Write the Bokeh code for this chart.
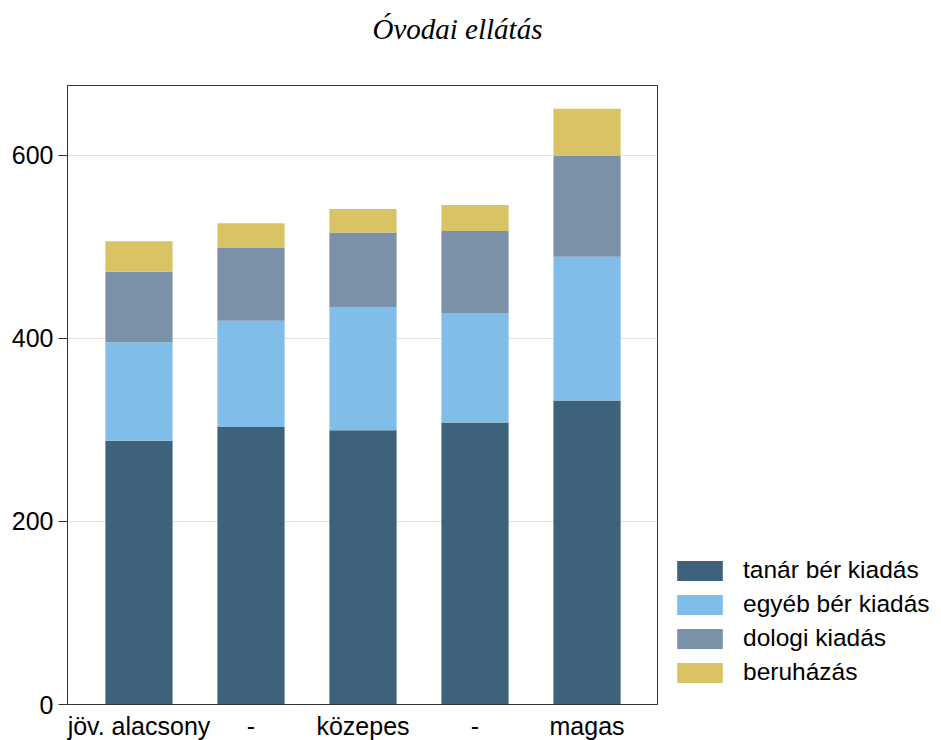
from bokeh.plotting import figure
from bokeh.models import ColumnDataSource, FixedTicker, Legend, Range1d, Title
from bokeh.embed import file_html
from bokeh.resources import INLINE

categories = ["jöv. alacsony", "-", "közepes", "-", "magas"]
tanar_ber = [288, 303, 299.5, 308, 332]
egyeb_ber = [107.5, 116, 134, 119, 157]
dologi = [77, 79.5, 82, 90, 110]
beruhazas = [33.5, 27, 25.5, 28.5, 51.5]
series = ["tanár bér kiadás", "egyéb bér kiadás", "dologi kiadás", "beruházás"]
colors = ["#3e627c", "#80bde8", "#7b91a8", "#d9c364"]
y_ticks = [0, 200, 400, 600]
title_text = "Óvodai ellátás"

idx = list(range(len(categories)))
source = ColumnDataSource(dict(x=idx, s0=tanar_ber, s1=egyeb_ber, s2=dologi, s3=beruhazas))

p = figure(width=941, height=740, output_backend="svg", toolbar_location=None,
           x_range=Range1d(-0.638, 4.629), y_range=Range1d(0, 676), title=None,
           min_border_left=67, min_border_top=85, min_border_bottom=36, min_border_right=284)
p.frame_width = 590
p.frame_height = 619

renderers = p.vbar_stack(["s0", "s1", "s2", "s3"], x="x", width=0.6, source=source,
                         color=colors, line_color=None)

FONT = "Liberation Sans"

legend = Legend(items=[(series[i], [renderers[i]]) for i in range(4)],
                location=(14, 18), margin=0, padding=0, spacing=6,
                glyph_width=57, glyph_height=25, label_height=25, label_standoff=15,
                label_text_font=FONT, label_text_font_size="24.5px", label_text_color="black",
                border_line_color=None, background_fill_alpha=0)
p.add_layout(legend, "right")

title = Title(text=title_text, align="left", offset=305, standoff=0, vertical_align="bottom",
              padding=(0, 0, 0, 41),
              text_font="Liberation Serif", text_font_style="italic",
              text_font_size="29px", text_color="black")
p.add_layout(title, "above")

p.outline_line_color = "#333333"
p.outline_line_width = 1

p.xgrid.grid_line_color = None
p.ygrid.grid_line_color = "#e2e2e2"
p.ygrid.ticker = FixedTicker(ticks=y_ticks)

p.yaxis.ticker = FixedTicker(ticks=y_ticks)
p.yaxis.major_tick_out = 9
p.yaxis.major_tick_in = 0
p.yaxis.minor_tick_out = 0
p.yaxis.minor_tick_in = 0
p.yaxis.major_label_standoff = 5
p.yaxis.axis_line_color = "#333333"
p.yaxis.major_tick_line_color = "#333333"
p.yaxis.major_label_text_font = FONT
p.yaxis.major_label_text_font_size = "25px"
p.yaxis.major_label_text_color = "black"

p.xaxis.ticker = FixedTicker(ticks=idx)
p.xaxis.major_label_overrides = {i: c for i, c in zip(idx, categories)}
p.xaxis.major_tick_out = 0
p.xaxis.major_tick_in = 0
p.xaxis.minor_tick_out = 0
p.xaxis.major_label_standoff = 7
p.xaxis.axis_line_color = "#333333"
p.xaxis.major_label_text_font = FONT
p.xaxis.major_label_text_font_size = "25px"
p.xaxis.major_label_text_color = "black"

open("out.html", "w").write(file_html(p, INLINE))
